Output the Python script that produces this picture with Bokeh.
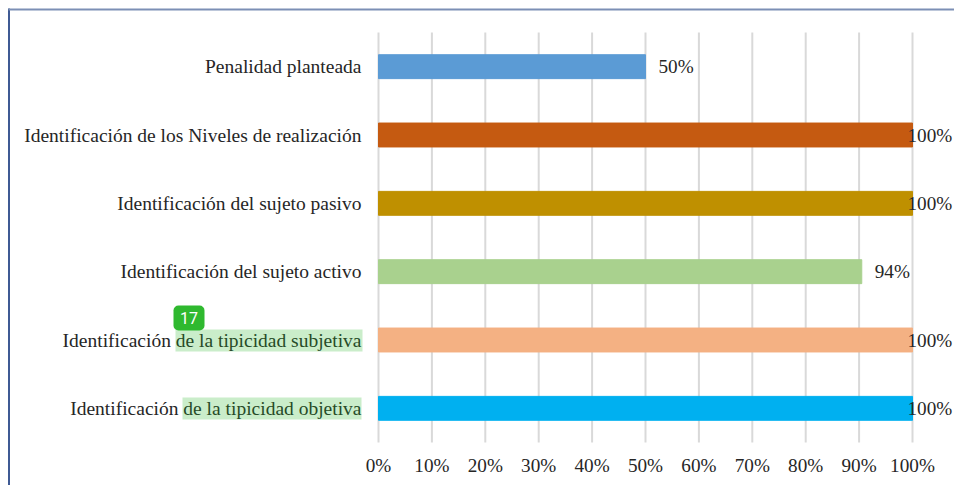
from bokeh.plotting import figure
from bokeh.models import (ColumnDataSource, Range1d, FixedTicker, BoxAnnotation,
                          Label, LabelSet, PrintfTickFormatter)
from bokeh.embed import file_html
from bokeh.resources import INLINE

categories = ["Identificación de la tipicidad objetiva",
              "Identificación de la tipicidad subjetiva",
              "Identificación del sujeto activo",
              "Identificación del sujeto pasivo",
              "Identificación de los Niveles de realización",
              "Penalidad planteada"]
# bar lengths as drawn in the picture; the third bar stops just past 90 % although labelled 94 %
values = [100, 100, 90.5, 100, 100, 50]
value_labels = ["100%", "100%", "94%", "100%", "100%", "50%"]
colors = ["#00B0F0", "#F4B183", "#A9D18E", "#BF9000", "#C55A11", "#5B9BD5"]
x_ticks = list(range(0, 101, 10))

FONT = "Liberation Serif"
TEXT = "#262626"
W, H = 954, 485
FL, FR, FT, FB = 378, 912, 32, 442   # plot area on the page
X_SCALE = 100 / (FR - FL)
Y_SCALE = len(categories) / (FB - FT)
positions = list(range(len(categories)))

source = ColumnDataSource(dict(
    pos=positions, val=values, col=colors,
    label=value_labels,
    off=[-5 if v == 100 else 13 for v in values],
))

# The frame fills the canvas so that nothing drawn beside the plot area gets clipped.
p = figure(width=W, height=H, output_backend="svg", toolbar_location=None,
           x_range=Range1d(-FL * X_SCALE, (W - FL) * X_SCALE),
           y_range=Range1d(-0.5 - (H - FB) * Y_SCALE, 5.5 + FT * Y_SCALE),
           min_border=0, outline_line_color=None,
           background_fill_color="white", border_fill_color="white")

p.grid.visible = False
p.segment(x0=x_ticks, x1=x_ticks, y0=-0.5, y1=5.5, line_color="#D9D9D9", line_width=2)
p.hbar(y="pos", left=0, right="val", height=0.35, color="col", source=source)

p.add_layout(LabelSet(x="val", y="pos", text="label", x_offset="off", source=source,
                      text_font=FONT, text_font_size="19.2px", text_color=TEXT,
                      text_baseline="middle", text_align="left"))

p.xaxis.fixed_location = -0.5
p.xaxis.ticker = FixedTicker(ticks=x_ticks)
p.xaxis.formatter = PrintfTickFormatter(format="%d%%")
p.xaxis.axis_line_color = None
p.xaxis.major_tick_line_color = None
p.xaxis.minor_tick_line_color = None
p.xaxis.major_label_standoff = 6
p.xaxis.major_label_text_font = FONT
p.xaxis.major_label_text_font_size = "19.2px"
p.xaxis.major_label_text_color = TEXT

p.yaxis.fixed_location = 0
p.yaxis.ticker = FixedTicker(ticks=positions)
p.yaxis.major_label_overrides = dict(zip(positions, categories))
p.yaxis.axis_line_color = None
p.yaxis.major_tick_line_color = None
p.yaxis.minor_tick_line_color = None
p.yaxis.major_label_standoff = 11
p.yaxis.major_label_text_font = FONT
p.yaxis.major_label_text_font_size = "19.5px"
p.yaxis.major_label_text_color = TEXT


def box(x0, x1, y0, y1, color, alpha=1.0, **kw):
    """Box given in page pixels."""
    p.add_layout(BoxAnnotation(left=x0, right=x1, top=H - y0, bottom=H - y1,
                               left_units="screen", right_units="screen",
                               top_units="screen", bottom_units="screen",
                               fill_color=color, fill_alpha=alpha, line_color=None,
                               level="overlay", **kw))


# document frame
box(7.5, 9.5, 8, 485, "#3F5A94")
box(8, 954, 8, 10, "#7C8FB5")

# highlights from the annotated document
box(175, 362, 329, 351, "#2DB82D", 0.25)
box(182, 361, 397, 419, "#2DB82D", 0.25)
box(173, 204, 305, 330, "#2FB92F", border_radius=5)
p.add_layout(Label(x=188.5, y=H - 317.5, x_units="screen", y_units="screen", text="17",
                   text_color="white", text_font="Roboto", text_font_size="16px",
                   text_align="center", text_baseline="middle", level="overlay"))

open("out.html", "w").write(file_html(p, INLINE))
